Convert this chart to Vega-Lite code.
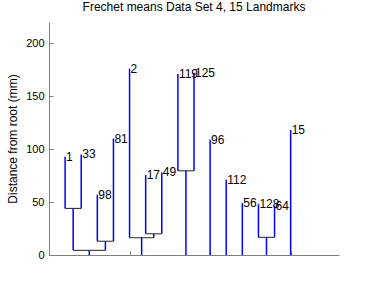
{
  "$schema": "https://vega.github.io/schema/vega-lite/v6.json",
  "width": 290,
  "height": 233,
  "autosize": {"type": "none"},
  "padding": {"left": 49, "top": 22, "right": 35, "bottom": 33},
  "background": "white",
  "config": {
    "view": {"stroke": null},
    "font": "Liberation Sans",
    "axis": {"grid": false, "domainColor": "#7f7f7f", "tickColor": "#7f7f7f", "labelColor": "black", "titleColor": "black", "labelFont": "Liberation Sans", "titleFont": "Liberation Sans", "labelFontSize": 11, "titleFontSize": 12, "titleFontWeight": "normal"}
  },
  "title": {"text": "Frechet means Data Set 4, 15 Landmarks", "font": "Liberation Sans", "fontSize": 12, "fontWeight": "normal", "color": "black", "offset": 8},
  "datasets": {
    "leaves": [
      {"id": "1", "x": 1, "top": 92.7, "base": 44},
      {"id": "33", "x": 2, "top": 95, "base": 44},
      {"id": "98", "x": 3, "top": 57, "base": 13},
      {"id": "81", "x": 4, "top": 110, "base": 13},
      {"id": "2", "x": 5, "top": 176, "base": 16.3},
      {"id": "17", "x": 6, "top": 75.7, "base": 20},
      {"id": "49", "x": 7, "top": 78, "base": 20},
      {"id": "119", "x": 8, "top": 171, "base": 79.5},
      {"id": "125", "x": 9, "top": 172, "base": 79.5},
      {"id": "96", "x": 10, "top": 108.8, "base": 0},
      {"id": "112", "x": 11, "top": 71, "base": 0},
      {"id": "56", "x": 12, "top": 49, "base": 0},
      {"id": "128", "x": 13, "top": 48, "base": 16.7},
      {"id": "64", "x": 14, "top": 46.5, "base": 16.7},
      {"id": "15", "x": 15, "top": 118, "base": 0}
    ],
    "stems": [
      {"x": 1.5, "top": 44, "base": 4.4},
      {"x": 3.5, "top": 13, "base": 4.4},
      {"x": 2.5, "top": 4.4, "base": 0},
      {"x": 6.5, "top": 20, "base": 16.3},
      {"x": 5.75, "top": 16.3, "base": 0},
      {"x": 8.5, "top": 79.5, "base": 0},
      {"x": 13.5, "top": 16.7, "base": 0}
    ],
    "joins": [
      {"x": 1, "x2": 2, "y": 44},
      {"x": 3, "x2": 4, "y": 13},
      {"x": 1.5, "x2": 3.5, "y": 4.4},
      {"x": 6, "x2": 7, "y": 20},
      {"x": 5, "x2": 6.5, "y": 16.3},
      {"x": 8, "x2": 9, "y": 79.5},
      {"x": 13, "x2": 14, "y": 16.7}
    ]
  },
  "layer": [
    {
      "data": {"name": "joins"},
      "mark": {"type": "rule", "color": "#222222", "strokeWidth": 1},
      "encoding": {
        "x": {"field": "x", "type": "quantitative", "scale": {"domain": [0, 18], "nice": false}, "axis": {"values": [0, 5, 10, 15], "labels": false, "tickSize": -4, "title": null}},
        "x2": {"field": "x2"},
        "y": {"field": "y", "type": "quantitative", "scale": {"domain": [0, 220], "nice": false}, "axis": {"values": [0, 50, 100, 150, 200], "tickSize": -4, "labelPadding": 9, "title": "Distance from root (mm)", "titlePadding": 6}}
      }
    },
    {
      "data": {"name": "stems"},
      "mark": {"type": "rule", "color": "#0000ff", "strokeWidth": 1.5},
      "encoding": {
        "x": {"field": "x", "type": "quantitative"},
        "y": {"field": "base", "type": "quantitative"},
        "y2": {"field": "top"}
      }
    },
    {
      "data": {"name": "leaves"},
      "mark": {"type": "rule", "color": "#0000ff", "strokeWidth": 1.5},
      "encoding": {
        "x": {"field": "x", "type": "quantitative"},
        "y": {"field": "base", "type": "quantitative"},
        "y2": {"field": "top"}
      }
    },
    {
      "data": {"name": "leaves"},
      "mark": {"type": "text", "align": "left", "baseline": "middle", "dx": 1, "fontSize": 12, "font": "Liberation Sans", "color": "black"},
      "encoding": {
        "x": {"field": "x", "type": "quantitative"},
        "y": {"field": "top", "type": "quantitative"},
        "text": {"field": "id"}
      }
    }
  ]
}
